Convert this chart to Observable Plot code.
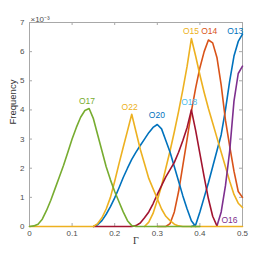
<!DOCTYPE html>
<html><head><meta charset="utf-8">
<script src="https://cdn.jsdelivr.net/npm/d3@7"></script>
<script src="https://cdn.jsdelivr.net/npm/@observablehq/plot@0.6"></script>
<style>body{margin:0;background:#fff}</style>
</head><body><div id="chart"></div>
<script>
// Γ grid
const gamma = [0,0.01,0.02,0.03,0.04,0.05,0.06,0.07,0.08,0.09,0.10,0.11,0.12,0.13,0.14,0.15,0.16,0.17,0.18,0.19,0.20,0.21,0.22,0.23,0.24,0.25,0.26,0.27,0.28,0.29,0.30,0.31,0.32,0.33,0.34,0.35,0.36,0.37,0.38,0.39,0.40,0.41,0.42,0.43,0.44,0.45,0.46,0.47,0.48,0.49,0.50];
const N = null;
// frequency values (×10^-3), one entry per gamma value
const o13 = [N,N,N,N,N,N,N,N,N,N,N,N,N,N,N,N,N,N,N,N,N,N,N,N,N,N,N,N,N,N,N,N,N,N,N,N,N,N,0,0.05,0.5,1.0,1.5,2.05,2.6,3.15,4.0,5.0,5.85,6.35,6.6];
const o14 = [N,N,N,N,N,N,N,N,N,N,N,N,N,N,N,N,N,N,N,N,N,N,N,N,N,N,N,N,N,N,0,0,0,0.1,0.5,1.2,2.1,3.0,3.95,4.75,5.45,6.0,6.4,6.3,5.8,4.85,3.65,2.75,1.9,1.2,1.0];
const o15 = [N,N,N,N,N,N,N,N,N,N,N,N,N,N,N,N,N,N,N,N,N,N,N,N,N,N,N,0,0.15,0.45,0.9,1.4,2.0,2.6,3.25,3.95,4.7,5.5,6.45,5.85,5.2,4.6,4.05,3.55,3.05,2.55,2.05,1.55,1.1,0.8,0.65];
const o16 = [N,N,N,N,N,N,N,N,N,N,N,N,N,N,N,N,N,N,N,N,N,N,N,N,N,N,N,N,N,N,N,N,N,N,N,N,N,N,N,N,N,N,N,N,0.02,0.5,1.4,2.6,4.3,5.25,5.5];
const o20 = [N,N,N,N,N,N,N,N,N,N,N,N,N,N,N,0,0.06,0.2,0.42,0.68,0.98,1.32,1.68,2.0,2.3,2.55,2.78,3.0,3.22,3.4,3.5,3.35,2.95,2.55,2.05,1.55,1.05,0.6,0.2,0,N,N,N,N,N,N,N,N,N,N,N];
const o18 = [N,N,N,N,N,N,N,N,N,N,N,N,N,N,N,0,0,0,0,0,0,0,0,0,0,0.03,0.12,0.3,0.5,0.78,1.1,1.4,1.7,1.95,2.2,2.55,2.95,3.4,4.0,3.3,2.5,1.7,0.95,0.35,0.02,N,N,N,N,N,N];
const o22 = [0,0,0,0,0,0,0,0,0,0,0,0,0,0,0,0,0.1,0.3,0.6,1.0,1.55,2.15,2.72,3.28,3.85,3.25,2.65,2.15,1.65,1.3,0.95,0.6,0.35,0.2,0.08,0.02,0,0,0,0,0,0,0,0,0,0,0,0,0,0,0];
const o17 = [0,0.02,0.08,0.25,0.55,0.9,1.3,1.7,2.1,2.55,3.0,3.4,3.75,3.98,4.05,3.7,3.15,2.6,2.05,1.6,1.2,0.85,0.5,0.2,0.03,0,0,0,0,0,0,0,0,0,0,0,0,0,0,0,0,N,N,N,N,N,N,N,N,N,N];

const seriesNames = ["O13","O14","O15","O16","O20","O18","O22","O17"];
const seriesValues = [o13,o14,o15,o16,o20,o18,o22,o17];
const seriesColors = ["#0072BD","#D95319","#EDB120","#7E2F8E","#0072BD","#A2142F","#EDB120","#77AC30"];

// curve labels
const labelText = ["O17","O22","O20","O18","O15","O14","O13","O16"];
const labelX = [0.135,0.235,0.299,0.375,0.379,0.422,0.483,0.4695];
const labelY = [4.30,4.10,3.80,4.28,6.69,6.69,6.69,0.22];
const labelColors = ["#77AC30","#EDB120","#0072BD","#4DBEEE","#EDB120","#D95319","#0072BD","#7E2F8E"];

const xTicks = [0,0.1,0.2,0.3,0.4,0.5];
const yTicks = [0,1,2,3,4,5,6,7];

const rows = [];
seriesNames.forEach((name, i) => {
  gamma.forEach((g, j) => rows.push({name, g, f: seriesValues[i][j]}));
});
const labels = labelText.map((t, i) => ({t, x: labelX[i], y: labelY[i], c: labelColors[i]}));

const gridColor = "#a8a8a8";
const textColor = "#4d4d4d";

const chart = Plot.plot({
  width: 258, height: 258,
  marginLeft: 29, marginRight: 16, marginTop: 22, marginBottom: 32,
  style: {fontFamily: "Liberation Sans, Arial, sans-serif", fontSize: "8px", background: "#fff"},
  x: {domain: [0, 0.5]},
  y: {domain: [0, 7]},
  color: {domain: seriesNames, range: seriesColors},
  marks: [
    Plot.frame({stroke: gridColor}),
    Plot.ruleX(xTicks, {x: d => d, y1: 0, y2: 0, insetTop: -3, stroke: gridColor}),
    Plot.ruleX(xTicks, {x: d => d, y1: 7, y2: 7, insetBottom: -3, stroke: gridColor}),
    Plot.ruleY(yTicks, {y: d => d, x1: 0, x2: 0, insetRight: -3, stroke: gridColor}),
    Plot.ruleY(yTicks, {y: d => d, x1: 0.5, x2: 0.5, insetLeft: -3, stroke: gridColor}),
    Plot.axisX({ticks: xTicks, tickSize: 0, tickPadding: 4, tickFormat: d => String(d), label: null, color: textColor}),
    Plot.axisY({ticks: yTicks, tickSize: 0, tickPadding: 5, tickFormat: d => String(d), label: null, color: textColor}),
    ...seriesNames.map((name, i) =>
      Plot.line(rows.filter(r => r.name === name), {x: "g", y: "f", stroke: seriesColors[i], strokeWidth: 1.6})
    ),
    Plot.text(labels, {x: "x", y: "y", text: "t", fill: "c", fontSize: 8.5}),
    Plot.text(["Frequency"], {frameAnchor: "left", rotate: -90, dx: -17, fontSize: 9.5, fill: "#333"}),
    Plot.text(["Γ"], {frameAnchor: "bottom", dy: 17, fontSize: 10, fontFamily: "Liberation Serif, serif", fill: "#333"}),
    Plot.text(["×10⁻³"], {frameAnchor: "top-left", dy: -6, dx: 1, textAnchor: "start", fontSize: 8, fill: textColor})
  ]
});
document.getElementById("chart").appendChild(chart);
</script>
</body></html>
